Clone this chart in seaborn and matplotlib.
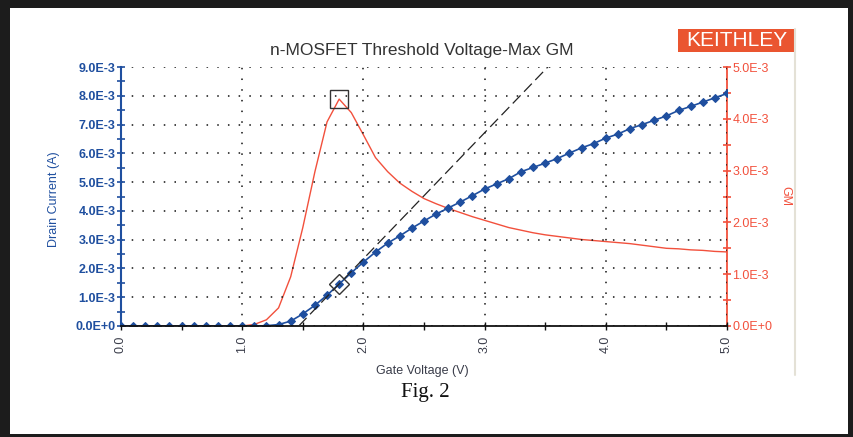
import numpy as np
import pandas as pd
import seaborn as sns
import matplotlib.pyplot as plt
from matplotlib.patches import Rectangle
from matplotlib.lines import Line2D
from matplotlib.ticker import FuncFormatter, MultipleLocator

##DATA
gate_voltage = [0.0, 0.1, 0.2, 0.3, 0.4, 0.5, 0.6, 0.7, 0.8, 0.9,
                1.0, 1.1, 1.2, 1.3, 1.4, 1.5, 1.6, 1.7, 1.8, 1.9,
                2.0, 2.1, 2.2, 2.3, 2.4, 2.5, 2.6, 2.7, 2.8, 2.9,
                3.0, 3.1, 3.2, 3.3, 3.4, 3.5, 3.6, 3.7, 3.8, 3.9,
                4.0, 4.1, 4.2, 4.3, 4.4, 4.5, 4.6, 4.7, 4.8, 4.9, 5.0]

# drain current in mA
drain_current_ma = [0, 0, 0, 0, 0, 0, 0, 0, 0, 0,
                    0, 0, 0.01, 0.05, 0.17, 0.42, 0.72, 1.07, 1.46, 1.85,
                    2.22, 2.57, 2.88, 3.13, 3.40, 3.65, 3.89, 4.10, 4.31, 4.53,
                    4.76, 4.94, 5.12, 5.36, 5.51, 5.66, 5.82, 6.01, 6.19, 6.34,
                    6.53, 6.67, 6.86, 7.00, 7.15, 7.30, 7.49, 7.63, 7.78, 7.93, 8.08]

# transconductance in mS
gm_ms = [0, 0, 0, 0, 0, 0, 0, 0, 0, 0,
         0, 0.03, 0.12, 0.35, 0.95, 1.90, 2.98, 3.94, 4.38, 4.12,
         3.69, 3.25, 2.98, 2.76, 2.60, 2.46, 2.36, 2.27, 2.19, 2.11,
         2.04, 1.97, 1.90, 1.85, 1.80, 1.76, 1.73, 1.70, 1.67, 1.65,
         1.63, 1.61, 1.59, 1.56, 1.53, 1.50, 1.49, 1.47, 1.46, 1.44, 1.43]

left_max = 9.0e-3
right_max = 5.0e-3

df = pd.DataFrame({'Vg': gate_voltage,
                   'Id': np.array(drain_current_ma) * 1e-3,
                   'GM': np.array(gm_ms) * 1e-3})

BLUE = '#1f4f9f'
RED = '#f2503c'

sns.set_theme(style='white')
plt.rcParams['font.family'] = ['Liberation Sans', 'DejaVu Sans']

fig = plt.figure(figsize=(8.54, 4.37), dpi=100)
ax = fig.add_axes([121/854, 1-326/437, 606/854, 259/437])
ax2 = ax.twinx()

#GM ON RIGHT AXIS
sns.lineplot(data=df, x='Vg', y='GM', ax=ax2, color=RED, linewidth=1.0, estimator=None)

#DRAIN CURRENT ON LEFT AXIS
sns.lineplot(data=df, x='Vg', y='Id', ax=ax, color=BLUE, linewidth=1.2, marker='D',
             markersize=4, markeredgecolor=BLUE, estimator=None)

ax.set_zorder(ax2.get_zorder() + 1)
ax.patch.set_visible(False)

#MAX GM POINT AND TANGENT LINE
i_pk = df['GM'].idxmax()
v_pk, id_pk, gm_pk = df.loc[i_pk, 'Vg'], df.loc[i_pk, 'Id'], df.loc[i_pk, 'GM']
vt = v_pk - id_pk / gm_pk
v_top = vt + left_max / gm_pk
ax.plot([vt, v_top], [0, left_max], color='#222222', lw=0.9, ls=(0, (9, 4)), zorder=3)
ax.plot([v_pk], [id_pk], marker='D', ms=10, mfc='none', mec='#333333', mew=1.0, zorder=5)
ax2.plot([v_pk], [gm_pk], marker='s', ms=13, mfc='none', mec='#333333', mew=1.0, zorder=5)

#AXES
ax.set_xlim(0, 5)
ax.set_ylim(0, left_max)
ax2.set_ylim(0, right_max)

def sci_fmt(v, pos):
    if abs(v) < 1e-12:
        return '0.0E+0'
    return f'{v*1e3:.1f}E-3'

ax.xaxis.set_major_locator(MultipleLocator(1))
ax.xaxis.set_minor_locator(MultipleLocator(0.5))
ax.xaxis.set_major_formatter(FuncFormatter(lambda v, p: f'{v:.1f}'))
ax.yaxis.set_major_locator(MultipleLocator(1e-3))
ax.yaxis.set_minor_locator(MultipleLocator(0.5e-3))
ax.yaxis.set_major_formatter(FuncFormatter(sci_fmt))
ax2.yaxis.set_major_locator(MultipleLocator(1e-3))
ax2.yaxis.set_minor_locator(MultipleLocator(0.5e-3))
ax2.yaxis.set_major_formatter(FuncFormatter(sci_fmt))

ax.grid(True, which='major', color='#111111', lw=1.1, ls=(0, (1, 6)))
ax2.grid(False)

for s in ['top', 'right']:
    ax.spines[s].set_visible(False)
for s in ['top', 'left', 'bottom']:
    ax2.spines[s].set_visible(False)
ax.spines['left'].set_color(BLUE)
ax.spines['left'].set_linewidth(1.5)
ax.spines['bottom'].set_color('#111111')
ax.spines['bottom'].set_linewidth(1.3)
ax2.spines['right'].set_color(RED)
ax2.spines['right'].set_linewidth(1.3)

ax.tick_params(axis='x', which='both', direction='inout', length=6, width=1,
               color='#111111', labelcolor='#3a3d4a', labelsize=9, labelrotation=90, pad=4,
               bottom=True)
ax.tick_params(axis='y', which='both', direction='inout', length=6, width=1.2,
               color=BLUE, labelcolor=BLUE, labelsize=9, pad=1, left=True)
ax2.tick_params(axis='y', which='both', direction='inout', length=6, width=1.2,
                color=RED, labelcolor=RED, labelsize=9, pad=1, right=True)
for lab in ax.get_yticklabels():
    lab.set_fontweight('bold')

ax.set_xlabel('Gate Voltage (V)', fontsize=9, color='#3a3d4a')
ax.set_ylabel('Drain Current (A)', fontsize=9, color=BLUE)
ax2.set_ylabel('GM', fontsize=9, color=RED, rotation=-90, va='center')
ax.xaxis.set_label_coords(0.498, -0.15)
ax.yaxis.set_label_coords(-0.10, 0.49)
ax2.yaxis.set_label_coords(1.096, 0.5)

#TITLE, LOGO, CAPTION
fig.text(422/854, 1-51/437, 'n-MOSFET Threshold Voltage-Max GM', ha='center', va='center',
         fontsize=12.5, color='#333333')
fig.patches.append(Rectangle((678/854, 1-52/437), 117/854, 23/437, transform=fig.transFigure,
                             facecolor='#ea5530', edgecolor='none'))
fig.text(736.5/854, 1-40.5/437, 'KEITHLEY', ha='center', va='center', fontsize=15, color='white')
fig.text(425/854, 1-392/437, 'Fig. 2', ha='center', va='center', fontsize=15,
         family=['Liberation Serif', 'DejaVu Serif'], color='#111111')

#WIDGET EDGE AND PAGE FRAME
fig.lines.append(Line2D([795/854, 795/854], [1-375/437, 1-29/437], transform=fig.transFigure,
                        color='#e4e1d6', lw=1.5))
frame = [(0, 1-8/437, 1, 8/437), (0, 0, 10/854, 1), (848/854, 0, 6/854, 1), (0, 0, 1, 3/437)]
for x0, y0, w, h in frame:
    fig.patches.append(Rectangle((x0, y0), w, h, transform=fig.transFigure,
                                 facecolor='#1c1c1c', edgecolor='none'))

fig.savefig('out.png', dpi=100)
